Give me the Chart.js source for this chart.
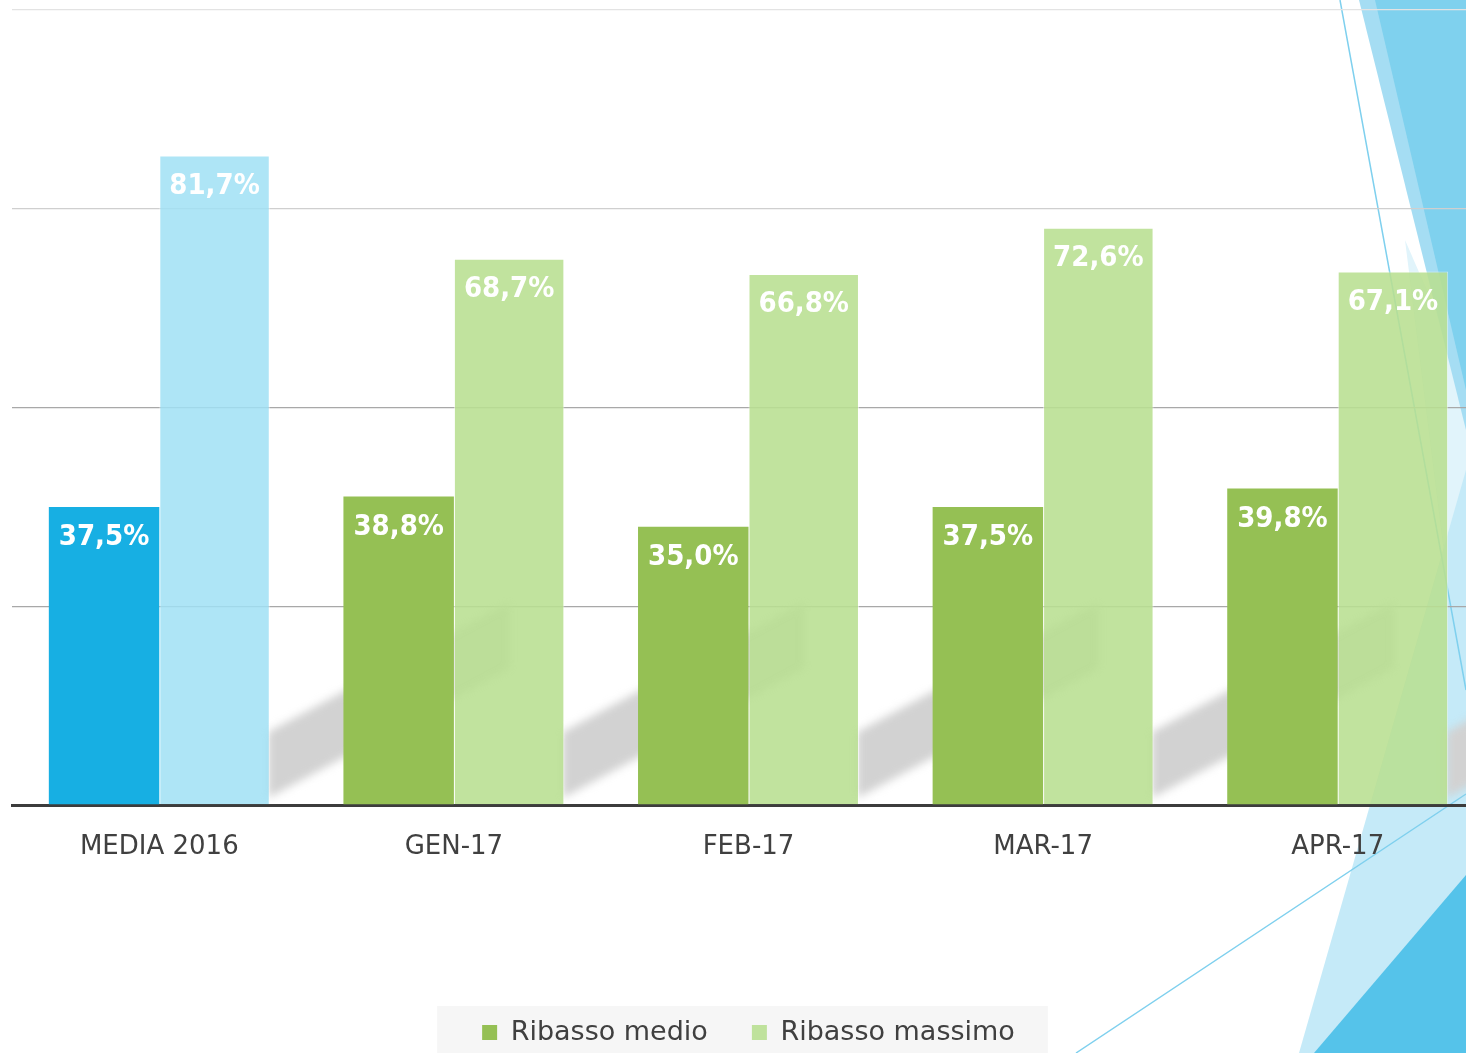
<!DOCTYPE html>
<html>
<head>
<meta charset="utf-8">
<script src="https://cdn.jsdelivr.net/npm/chart.js@4/dist/chart.umd.min.js"></script>
<style>
  html, body { margin: 0; padding: 0; background: #fff; overflow: hidden; }
  #wrap { width: 1485px; height: 1053px; }
</style>
</head>
<body>
<div id="wrap"><canvas id="ribassi" width="1485" height="1053"></canvas></div>
<script>
//chart values
const categories = ['MEDIA 2016', 'GEN-17', 'FEB-17', 'MAR-17', 'APR-17'];
const ribassoMedio = [37.5, 38.8, 35.0, 37.5, 39.8];
const ribassoMassimo = [81.7, 68.7, 66.8, 72.6, 67.1];
const seriesNames = ['Ribasso medio', 'Ribasso massimo'];
const yMax = 100;
const yStep = 25;

//first category (2016 average) is blue, the months are green
const medioColors = categories.map((c, i) => i === 0 ? '#17afe3' : '#95c054');
const massimoColors = categories.map((c, i) => i === 0 ? 'rgba(160, 224, 244, 0.85)' : 'rgba(184, 223, 145, 0.88)');

//slide theme decoration behind the chart (facet triangles on the right)
const decoPlugin = {
    id: 'deco',
    beforeDraw(chart) {
        const ctx = chart.ctx;
        ctx.save();
        const poly = (pts, col) => {
            ctx.beginPath();
            ctx.moveTo(pts[0][0], pts[0][1]);
            pts.slice(1).forEach(p => ctx.lineTo(p[0], p[1]));
            ctx.closePath();
            ctx.fillStyle = col;
            ctx.fill();
        };
        poly([[1405, 240], [1466, 380], [1466, 640], [1450, 600]], '#e1f4fb');
        poly([[1359, 0], [1466, 0], [1466, 430]], '#a5ddf3');
        poly([[1375, 0], [1466, 0], [1466, 390]], '#7fd1ee');
        poly([[1299, 1053], [1466, 470], [1466, 1053]], '#c5eaf8');
        poly([[1314, 1053], [1466, 875], [1466, 1053]], '#55c3ea');
        ctx.strokeStyle = '#7fd0ee';
        ctx.lineWidth = 1.5;
        ctx.beginPath();
        ctx.moveTo(1340, 0); ctx.lineTo(1466, 690);
        ctx.moveTo(1076, 1053); ctx.lineTo(1466, 794);
        ctx.stroke();
        ctx.restore();
    },
    //soft grey shadow falling from each pair of bars
    beforeDatasetsDraw(chart) {
        const ctx = chart.ctx;
        const area = chart.chartArea;
        const meta = chart.getDatasetMeta(1);
        ctx.save();
        ctx.beginPath();
        ctx.rect(area.left, area.top, area.right - area.left, area.bottom - area.top);
        ctx.clip();
        ctx.filter = 'blur(4px)';
        ctx.fillStyle = '#d2d2d2';
        meta.data.forEach(el => {
            const r = el.x + el.width / 2;
            const b = el.base;
            ctx.beginPath();
            ctx.moveTo(r - 2, b - 6);
            ctx.lineTo(r - 2, b - 72);
            ctx.lineTo(r + 240, b - 72 - 130);
            ctx.lineTo(r + 240, b - 6 - 130);
            ctx.closePath();
            ctx.fill();
        });
        ctx.restore();
    }
};

//white value labels inside the top of each bar
const valueLabels = {
    id: 'valueLabels',
    afterDatasetsDraw(chart) {
        const ctx = chart.ctx;
        ctx.save();
        ctx.font = 'bold 29px "DejaVu Sans Condensed", "DejaVu Sans", sans-serif';
        ctx.fillStyle = '#ffffff';
        ctx.textAlign = 'center';
        ctx.textBaseline = 'middle';
        chart.data.datasets.forEach((ds, di) => {
            chart.getDatasetMeta(di).data.forEach((el, i) => {
                const txt = ds.data[i].toFixed(1).replace('.', ',') + '%';
                ctx.fillText(txt, el.x, el.y + 31);
            });
        });
        ctx.restore();
    }
};

//light grey band behind the legend
const legendBox = {
    id: 'legendBox',
    beforeDraw(chart) {
        const lg = chart.legend;
        if (!lg || !lg.legendHitBoxes || !lg.legendHitBoxes.length) return;
        const boxes = lg.legendHitBoxes;
        const l = Math.min(...boxes.map(b => b.left)) - 45;
        const r = Math.max(...boxes.map(b => b.left + b.width)) + 33;
        const ctx = chart.ctx;
        ctx.save();
        ctx.fillStyle = '#f6f6f6';
        ctx.fillRect(l, 1006, r - l, chart.height - 1006);
        ctx.restore();
    }
};

const gridColor = (v) => {
    if (v === 100) return '#e3e3e3';
    if (v === 75) return '#cfcfcf';
    return '#a8a8a8';
};

new Chart(document.getElementById('ribassi'), {
    type: 'bar',
    data: {
        labels: categories,
        datasets: [{
            label: seriesNames[0],
            data: ribassoMedio,
            backgroundColor: medioColors,
            borderWidth: 0,
            barPercentage: 1.0,
            categoryPercentage: 0.75
        }, {
            label: seriesNames[1],
            data: ribassoMassimo,
            backgroundColor: massimoColors,
            borderColor: 'rgba(255, 255, 255, 0.55)',
            borderWidth: { left: 1, top: 1, right: 1, bottom: 0 },
            barPercentage: 1.0,
            categoryPercentage: 0.75
        }]
    },
    options: {
        responsive: false,
        animation: false,
        layout: { padding: { left: 12, right: 0, top: 10, bottom: -3 } },
        scales: {
            x: {
                grid: { display: false },
                border: { display: true, color: '#3c3c3c', width: 3 },
                ticks: {
                    color: '#404040',
                    font: { family: '"DejaVu Sans", sans-serif', size: 26 },
                    padding: 19,
                    maxRotation: 0
                },
                afterFit: (s) => { s.height = 170; }
            },
            y: {
                min: 0,
                max: yMax,
                ticks: { display: false, stepSize: yStep },
                border: { display: false },
                grid: {
                    drawTicks: false,
                    lineWidth: 1.3,
                    color: (c) => gridColor(c.tick.value)
                },
                afterFit: (s) => { s.width = 0; }
            }
        },
        plugins: {
            tooltip: { enabled: false },
            legend: {
                position: 'bottom',
                labels: {
                    color: '#404040',
                    font: { family: '"DejaVu Sans", sans-serif', size: 27 },
                    boxWidth: 15,
                    boxHeight: 15,
                    padding: 44,
                    generateLabels: () => seriesNames.map((n, i) => ({
                        text: n,
                        fillStyle: i === 0 ? '#95c054' : '#bfe29c',
                        strokeStyle: 'rgba(0,0,0,0)',
                        lineWidth: 0,
                        fontColor: '#404040',
                        datasetIndex: i
                    }))
                }
            }
        }
    },
    plugins: [decoPlugin, legendBox, valueLabels]
});
</script>
</body>
</html>
